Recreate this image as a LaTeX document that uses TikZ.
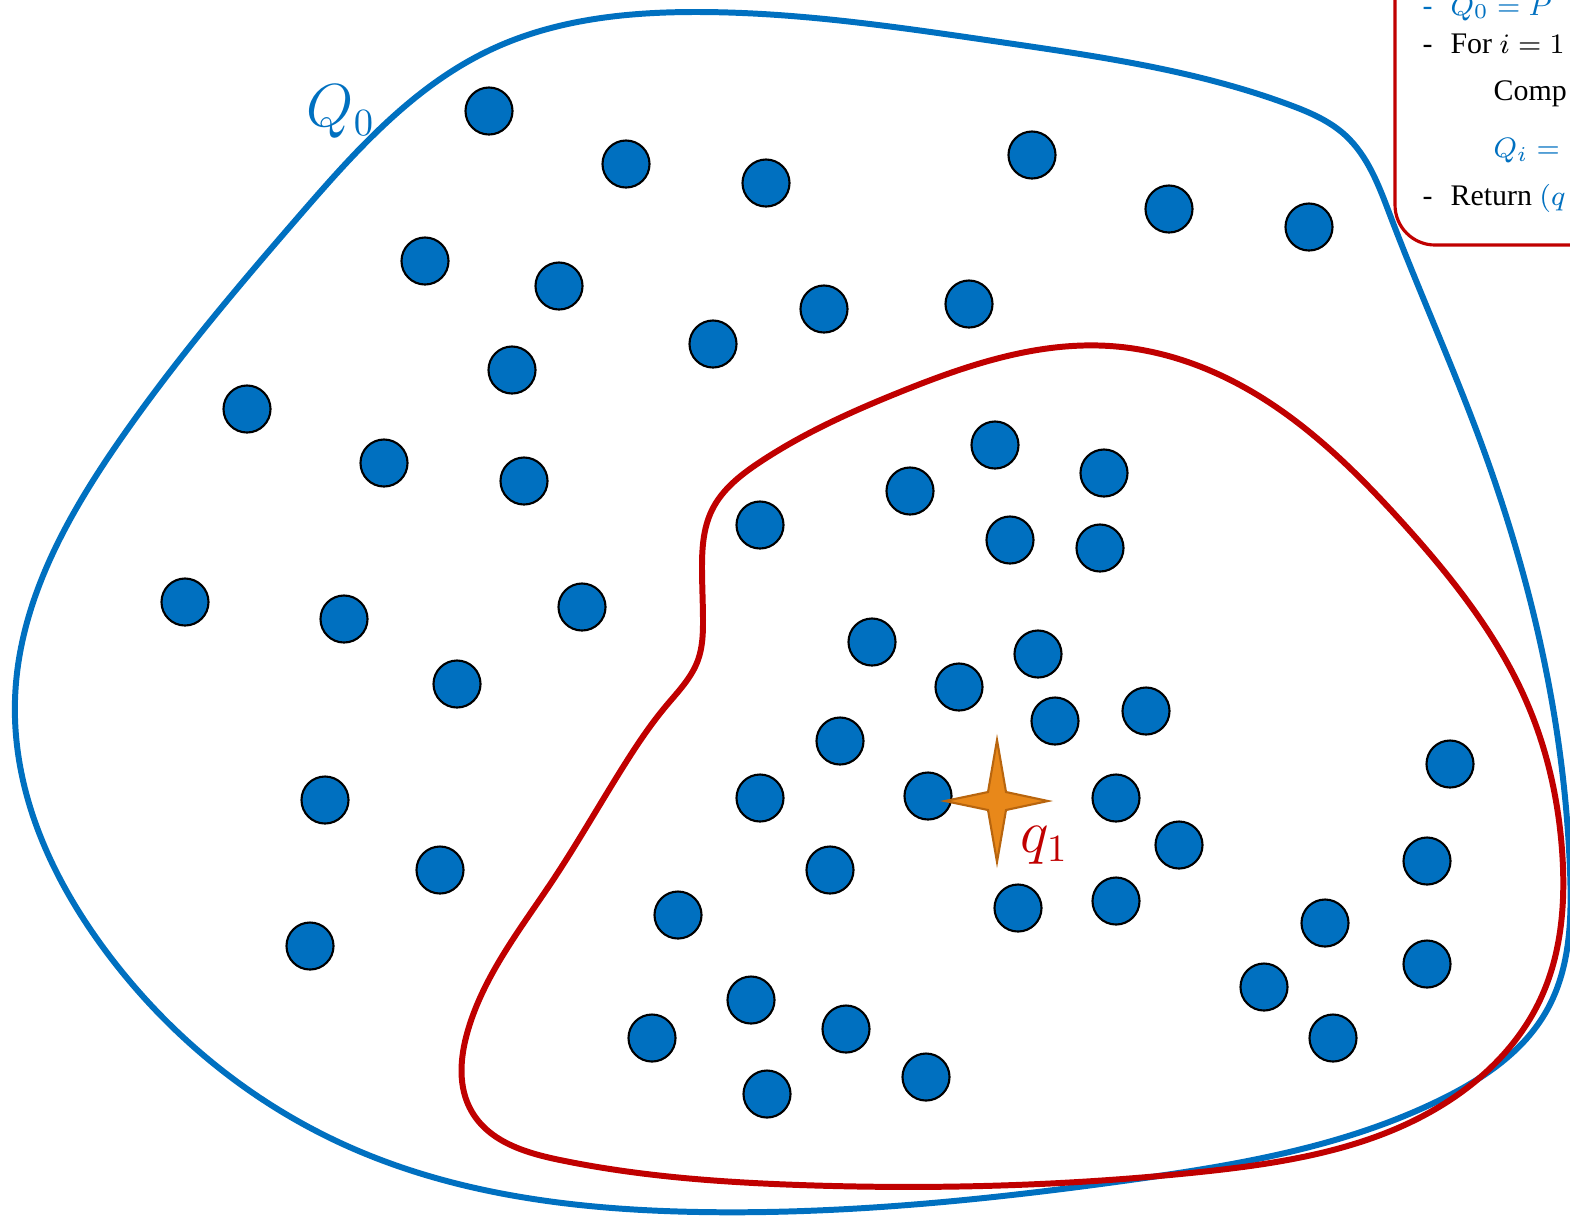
\documentclass[tikz,border=0pt]{standalone}
\usepackage{amsmath}
\usepackage{fontspec}
\setmainfont{Liberation Serif}
\usepackage{xcolor}
\usepackage{tikz}
\usetikzlibrary{positioning,hobby}
\definecolor{setblue}{HTML}{0070C0}
\definecolor{setred}{HTML}{C00000}
\definecolor{starorange}{HTML}{E8881A}
\definecolor{stardark}{HTML}{B8650E}

\begin{document}
\begin{tikzpicture}[
  x=0.01cm, y=-0.01cm,
  dot/.style={circle, draw=black, line width=0.6pt, fill=setblue, minimum size=0.47cm, inner sep=0pt},
  hull/.style={line width=1.7pt, line join=round, use Hobby shortcut},
  algo/.style={font=\fontsize{8.5}{10}\selectfont, anchor=base west, inner sep=0pt},
  lbl/.style={font=\fontsize{16}{18}\selectfont, anchor=base west, inner sep=0pt}
]
\useasboundingbox (0,0) rectangle (1570,1220);

% Algorithm box (cut by the page edge)
\draw[setred, line width=0.9pt, rounded corners=0.4cm] (1395,-60) rectangle (1720,245);
\node[algo, setblue] (a1) at (1422,15) {-\hspace{0.6em}$Q_0 = P$};
\node[algo] (a2) at (1422,53) {-\hspace{0.6em}For $i = 1$};
\node[algo] (a3) at (1493,100) {Comp};
\node[algo, setblue] (a4) at (1493,157) {$Q_i = ($};
\node[algo] (a5) at (1422,205) {-\hspace{0.6em}Return {\color{setblue}$(q$}};

% Outer set Q_0
\draw[hull, setblue] ([closed]15,700) .. (120,440) .. (300,215) .. (490,50)
  .. (700,12) .. (1000,42) .. (1290,105) .. (1345,135) .. (1390,215)
  .. (1480,440) .. (1555,720) .. (1570,870) .. (1547,1010) .. (1440,1100)
  .. (1130,1180) .. (700,1212) .. (345,1145) .. (105,950);

% Inner set Q_1
\draw[hull, setred] ([closed]702,570) .. (712,510) .. (760,462) .. (900,392)
  .. (1110,346) .. (1240,385) .. (1400,520) .. (1530,710) .. (1562,850)
  .. (1540,1000) .. (1450,1100) .. (1200,1172) .. (800,1185) .. (560,1160)
  .. (472,1112) .. (468,1030) .. (553,880) .. (623,767) .. (666,706)
  .. (698,660) .. (703,620);

% Points
\node[dot] (p1) at (489,111) {};
\node[dot] (p2) at (626,164) {};
\node[dot] (p3) at (766,183) {};
\node[dot] (p4) at (1032,155) {};
\node[dot] (p5) at (1169,209) {};
\node[dot] (p6) at (1309,227) {};
\node[dot] (p7) at (425,261) {};
\node[dot] (p8) at (559,286) {};
\node[dot] (p9) at (824,309) {};
\node[dot] (p10) at (969,304) {};
\node[dot] (p11) at (713,344) {};
\node[dot] (p12) at (512,370) {};
\node[dot] (p13) at (247,409) {};
\node[dot] (p14) at (384,463) {};
\node[dot] (p15) at (524,481) {};
\node[dot] (p16) at (995,445) {};
\node[dot] (p17) at (1104,473) {};
\node[dot] (p18) at (910,491) {};
\node[dot] (p19) at (760,525) {};
\node[dot] (p20) at (1010,540) {};
\node[dot] (p21) at (1100,548) {};
\node[dot] (p22) at (185,602) {};
\node[dot] (p23) at (344,619) {};
\node[dot] (p24) at (582,607) {};
\node[dot] (p25) at (872,642) {};
\node[dot] (p26) at (1038,654) {};
\node[dot] (p27) at (959,687) {};
\node[dot] (p28) at (457,684) {};
\node[dot] (p29) at (1055,721) {};
\node[dot] (p30) at (1146,711) {};
\node[dot] (p31) at (840,741) {};
\node[dot] (p32) at (1450,764) {};
\node[dot] (p33) at (325,800) {};
\node[dot] (p34) at (760,798) {};
\node[dot] (p35) at (928,796) {};
\node[dot] (p36) at (1116,798) {};
\node[dot] (p37) at (1179,845) {};
\node[dot] (p38) at (1427,861) {};
\node[dot] (p39) at (440,870) {};
\node[dot] (p40) at (830,870) {};
\node[dot] (p41) at (1018,908) {};
\node[dot] (p42) at (1116,901) {};
\node[dot] (p43) at (678,915) {};
\node[dot] (p44) at (1325,923) {};
\node[dot] (p45) at (310,946) {};
\node[dot] (p46) at (1427,964) {};
\node[dot] (p47) at (1264,987) {};
\node[dot] (p48) at (751,1000) {};
\node[dot] (p49) at (846,1029) {};
\node[dot] (p50) at (652,1038) {};
\node[dot] (p51) at (1333,1038) {};
\node[dot] (p52) at (926,1077) {};
\node[dot] (p53) at (767,1094) {};

% Query point q_1
\draw[fill=starorange, draw=stardark, line width=0.6pt, line join=miter]
  (997,740) -- (1006,792) -- (1048,801) -- (1006,810) -- (997,862)
  -- (988,810) -- (945,801) -- (988,792) -- cycle;
\node[lbl, setred] (q1) at (1020,852) {$q_1$};

% Label of the outer set
\node[lbl, setblue] (q0) at (306,126) {$Q_0$};

\end{tikzpicture}
\end{document}
